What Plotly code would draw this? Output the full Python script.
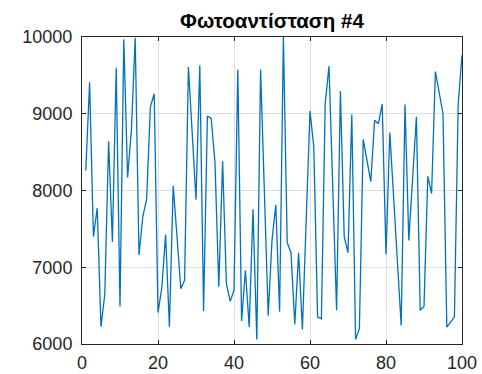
import plotly.graph_objects as go

# Sample index (1..100) and photoresistor #4 readings
sample = list(range(1, 101))
reading = [
    8260, 9410, 7400, 7770, 6225, 6650, 8640, 7330, 9600, 6490,
    9970, 8170, 8790, 9990, 7160, 7660, 7880, 9090, 9260, 6410,
    6730, 7425, 6225, 8060, 7400, 6720, 6830, 9610, 8750, 7880,
    9630, 6430, 8970, 8940, 8360, 6745, 8380, 6790, 6555, 6700,
    9575, 6300, 6960, 6220, 7755, 6060, 9575, 7950, 6370, 7350,
    7815, 6420, 10000, 7320, 7190, 6255, 7190, 6190, 7600, 9035,
    8565, 6350, 6330, 9130, 9620, 8000, 6440, 9295, 7400, 7190,
    8990, 6060, 6200, 8665, 8400, 8115, 8915, 8870, 9127, 7165,
    8755, 7900, 7050, 6240, 9120, 7350, 8150, 8960, 6440, 6490,
    8185, 7960, 9550, 9300, 9000, 6220, 6280, 6350, 9130, 9760,
]

title_text = "Φωτοαντίσταση #4"
x_ticks = [0, 20, 40, 60, 80, 100]
y_ticks = [6000, 7000, 8000, 9000, 10000]

axis_color = "#262626"
grid_color = "#dfdfdf"
font_family = "Liberation Sans, Arial, sans-serif"

fig = go.Figure(
    go.Scatter(
        x=sample,
        y=reading,
        mode="lines",
        line=dict(color="#0072BD", width=1.3),
        hoverinfo="skip",
    )
)

axis_common = dict(
    showline=True,
    linecolor=axis_color,
    linewidth=1,
    mirror="allticks",
    ticks="inside",
    ticklen=4,
    tickcolor=axis_color,
    tickwidth=1,
    showgrid=True,
    gridcolor=grid_color,
    gridwidth=1,
    zeroline=False,
    automargin=False,
    tickfont=dict(family=font_family, size=18, color="#262626"),
)

fig.update_xaxes(
    range=[0, 100],
    tickvals=x_ticks,
    ticktext=[str(v) for v in x_ticks],
    ticklabelstandoff=2,
    **axis_common,
)
fig.update_yaxes(
    range=[6000, 10000],
    tickvals=y_ticks,
    ticktext=[str(v) for v in y_ticks],
    ticklabelstandoff=5,
    **axis_common,
)

fig.update_layout(
    width=482,
    height=374,
    margin=dict(l=82, r=20, t=37, b=30),
    paper_bgcolor="white",
    plot_bgcolor="white",
    showlegend=False,
    title=dict(
        text="<b>" + title_text + "</b>",
        x=272 / 482,
        xanchor="center",
        y=1 - 21 / 374,
        yanchor="middle",
        font=dict(family=font_family, size=20.5, color="black"),
    ),
)

fig.write_html("out.html")
